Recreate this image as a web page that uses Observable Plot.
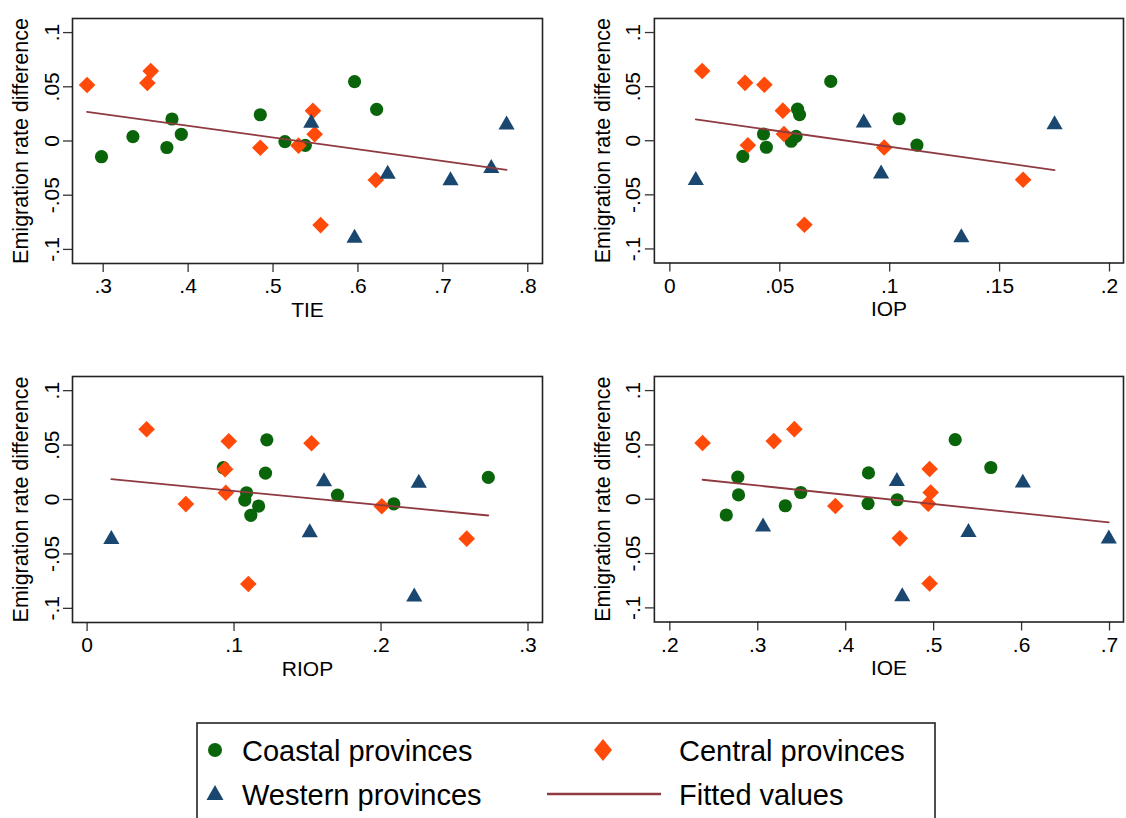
<!DOCTYPE html>
<html>
<head>
<meta charset="utf-8">
<script src="https://cdn.jsdelivr.net/npm/d3@7"></script>
<script src="https://cdn.jsdelivr.net/npm/@observablehq/plot@0.6"></script>
<style>
  html, body { margin: 0; padding: 0; background: #fff; }
  #root { position: relative; width: 1126px; height: 818px; overflow: hidden; background: #fff;
          font-family: "Liberation Sans", Arial, sans-serif; }
  .panel { position: absolute; }
  #legend { position: absolute; left: 0; top: 0; }
</style>
</head>
<body>
<div id="root"></div>
<script>
// ---------------- data ----------------
const groups = ["Coastal provinces", "Central provinces", "Western provinces"];
// y: emigration rate difference
const coastalY  = [-0.0145, 0.004, -0.006, 0.0203, 0.0062, 0.0242, -0.0005, -0.004, 0.0548, 0.0292];
const coastalTIE  = [0.298, 0.335, 0.375, 0.381, 0.392, 0.485, 0.514, 0.538, 0.596, 0.622];
const coastalIOP  = [0.0332, 0.0574, 0.0439, 0.1043, 0.0426, 0.059, 0.0552, 0.1124, 0.0732, 0.0581];
const coastalRIOP = [0.1114, 0.1704, 0.1167, 0.273, 0.1085, 0.1214, 0.1073, 0.2087, 0.1223, 0.0927];
const coastalIOE  = [0.2642, 0.2781, 0.3313, 0.2773, 0.3489, 0.4259, 0.4586, 0.4254, 0.5245, 0.565];

const centralY    = [0.0517, 0.0535, 0.0645, -0.0062, -0.0042, 0.0278, 0.0062, -0.0776, -0.036];
const centralTIE  = [0.281, 0.352, 0.356, 0.485, 0.530, 0.547, 0.549, 0.556, 0.621];
const centralIOP  = [0.043, 0.0342, 0.0147, 0.0975, 0.0355, 0.0514, 0.0519, 0.0612, 0.1607];
const centralRIOP = [0.1527, 0.0964, 0.0405, 0.2005, 0.0672, 0.0939, 0.0944, 0.1097, 0.2583];
const centralIOE  = [0.2372, 0.3182, 0.3416, 0.3882, 0.4938, 0.4954, 0.4966, 0.4954, 0.4615];

const westernY    = [0.0165, -0.0895, -0.0305, -0.0365, -0.0253, 0.015];
const westernTIE  = [0.545, 0.596, 0.635, 0.709, 0.757, 0.775];
const westernIOP  = [0.0882, 0.1326, 0.0961, 0.0118, null, 0.175];
const westernRIOP = [0.1612, 0.2226, 0.1515, 0.0165, null, 0.2257];
const westernIOE  = [0.4582, 0.4643, 0.5396, 0.6992, 0.306, 0.6014];

const yTicks = [-0.1, -0.05, 0, 0.05, 0.1];
const yTitle = "Emigration rate difference";
const tieTicks  = [0.3, 0.4, 0.5, 0.6, 0.7, 0.8];
const iopTicks  = [0, 0.05, 0.1, 0.15, 0.2];
const riopTicks = [0, 0.1, 0.2, 0.3];
const ioeTicks  = [0.2, 0.3, 0.4, 0.5, 0.6, 0.7];
const legendLabels = ["Coastal provinces", "Central provinces", "Western provinces", "Fitted values"];

// ---------------- build table ----------------
function rows(group, ys, tie, iop, riop, ioe) {
  return ys.map((y, i) => ({group, y, TIE: tie[i], IOP: iop[i], RIOP: riop[i], IOE: ioe[i]}));
}
const provinces = [
  ...rows(groups[0], coastalY, coastalTIE, coastalIOP, coastalRIOP, coastalIOE),
  ...rows(groups[1], centralY, centralTIE, centralIOP, centralRIOP, centralIOE),
  ...rows(groups[2], westernY, westernTIE, westernIOP, westernRIOP, westernIOE)
];

const COL = {green: "#0a640a", orange: "#ff4a0a", navy: "#1a476f", fit: "#8f3a40"};
const fmt = d => d === 0 ? "0" : String(+d.toFixed(3)).replace("0.", ".");
const diamond = {draw(ctx, size) { const r = Math.sqrt(size) * 0.62625; ctx.moveTo(0, -r); ctx.lineTo(r, 0); ctx.lineTo(0, r); ctx.lineTo(-r, 0); ctx.closePath(); }};

const FONT = "\"Liberation Sans\", Arial, sans-serif";
const W = 545, ML = 72, MR = 3, MT = 18, MB = 62;

function panel(key, xDomain, xTicks, frameH) {
  const data = provinces.filter(d => d[key] != null);
  const g = name => data.filter(d => d.group === name);
  return Plot.plot({
    width: W, height: MT + frameH + MB,
    marginLeft: ML, marginRight: MR, marginTop: MT, marginBottom: MB,
    style: {fontFamily: FONT, fontSize: "21px", color: "#000", background: "transparent", overflow: "visible"},
    x: {domain: xDomain, ticks: xTicks, tickFormat: fmt},
    y: {domain: [-0.113, 0.113], ticks: yTicks, tickFormat: fmt},
    marks: [
      Plot.axisX({ticks: xTicks, tickFormat: fmt, tickSize: 9, tickPadding: 6, label: null, stroke: "#333", strokeWidth: 1.3}),
      Plot.axisY({ticks: yTicks, tickFormat: fmt, tickSize: 9, tickPadding: 5, tickRotate: -90, label: null, stroke: "#333", strokeWidth: 1.3}),
      Plot.dot(g(groups[0]), {x: key, y: "y", r: 6.6, symbol: "circle", fill: COL.green, stroke: "none"}),
      Plot.dot(g(groups[1]), {x: key, y: "y", r: 7.5, symbol: diamond, fill: COL.orange, stroke: "none"}),
      Plot.dot(g(groups[2]), {x: key, y: "y", r: 6, symbol: "triangle", fill: COL.navy, stroke: "none"}),
      Plot.linearRegressionY(data, {x: key, y: "y", ci: 0, stroke: COL.fit, strokeWidth: 1.8}),
      Plot.frame({stroke: "#222", strokeWidth: 1.6}),
      Plot.text([key], {frameAnchor: "bottom", dy: 53, fontSize: 21, fill: "#000"}),
      Plot.text([yTitle], {frameAnchor: "left", textAnchor: "middle", rotate: -90, dx: -51, fontSize: 21.5, fill: "#000"})
    ]
  });
}

const root = document.getElementById("root");
function place(el, left, top) {
  const wrap = document.createElement("div");
  wrap.className = "panel";
  wrap.style.left = left + "px";
  wrap.style.top = top + "px";
  wrap.appendChild(el);
  root.appendChild(wrap);
}
place(panel("TIE",  [0.26385, 0.81731], tieTicks, 245), 0, 0);
place(panel("IOP",  [-0.00704, 0.20636], iopTicks, 245), 582, 0);
place(panel("RIOP", [-0.00993, 0.30987], riopTicks, 246), 0, 358);
place(panel("IOE",  [0.18241, 0.71589], ioeTicks, 246), 582, 358);

// ---------------- legend ----------------
const ns = "http://www.w3.org/2000/svg";
const lg = document.createElementNS(ns, "svg");
lg.setAttribute("id", "legend");
lg.setAttribute("width", 1126);
lg.setAttribute("height", 818);
lg.style.pointerEvents = "none";
function el(tag, attrs, text) {
  const e = document.createElementNS(ns, tag);
  for (const k in attrs) e.setAttribute(k, attrs[k]);
  if (text != null) e.textContent = text;
  lg.appendChild(e);
  return e;
}
el("rect", {x: 197, y: 723, width: 738, height: 120, fill: "#fff", stroke: "#222", "stroke-width": 1.6});
el("circle", {cx: 215, cy: 750, r: 7, fill: COL.green});
el("path", {d: "M603,739 L612,750 L603,761 L594,750 Z", fill: COL.orange});
el("path", {d: "M215,785 L223.5,800 L206.5,800 Z", fill: COL.navy});
el("line", {x1: 547, x2: 661, y1: 794, y2: 794, stroke: COL.fit, "stroke-width": 2.5});
const tAttr = {"font-family": FONT, "font-size": 29, fill: "#000", "dominant-baseline": "central"};
el("text", {...tAttr, x: 242, y: 751}, legendLabels[0]);
el("text", {...tAttr, x: 679, y: 751}, legendLabels[1]);
el("text", {...tAttr, x: 242, y: 795}, legendLabels[2]);
el("text", {...tAttr, x: 679, y: 795}, legendLabels[3]);
root.appendChild(lg);
</script>
</body>
</html>
